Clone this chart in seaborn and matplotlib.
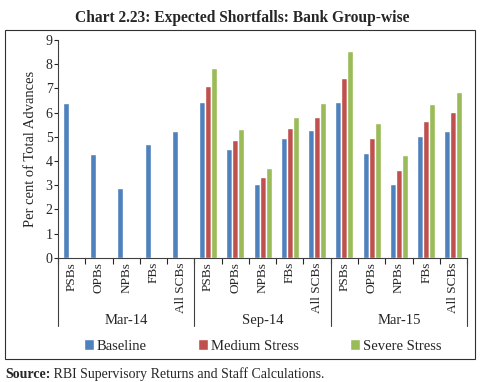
import pandas as pd
import seaborn as sns
import matplotlib.pyplot as plt
from matplotlib.patches import Rectangle

# --- DATA ---
periods = ["Mar-14", "Sep-14", "Mar-15"]
banks = ["PSBs", "OPBs", "NPBs", "FBs", "All SCBs"]
scenarios = ["Baseline", "Medium Stress", "Severe Stress"]

baseline = {
    "Mar-14": [6.4, 4.3, 2.9, 4.7, 5.25],
    "Sep-14": [6.45, 4.48, 3.05, 4.94, 5.3],
    "Mar-15": [6.43, 4.32, 3.04, 5.04, 5.23],
}
medium = {
    "Sep-14": [7.12, 4.87, 3.35, 5.38, 5.83],
    "Mar-15": [7.43, 4.94, 3.62, 5.66, 6.02],
}
severe = {
    "Sep-14": [7.84, 5.33, 3.7, 5.84, 6.39],
    "Mar-15": [8.53, 5.58, 4.25, 6.34, 6.87],
}

colors = ["#4F81BD", "#C0504D", "#9BBB59"]

# --- THEME ---
sns.set_theme(style="white")
plt.rcParams["font.family"] = ["Liberation Serif", "DejaVu Serif"]
plt.rcParams["axes.linewidth"] = 0.8

# --- LONG TABLE ---
rows = []
for scen, table in zip(scenarios, [baseline, medium, severe]):
    for p in periods:
        if p not in table:
            continue
        for b, v in zip(banks, table[p]):
            rows.append({"slot": f"{p} {b}", "scenario": scen, "value": v})
df = pd.DataFrame(rows)
order = [f"{p} {b}" for p in periods for b in banks]

# --- PLOT ---
fig = plt.figure(figsize=(4.84, 3.82), dpi=100)
ax = fig.add_axes([0.12, 0.325, 0.845, 0.57])

sns.barplot(data=df, x="slot", y="value", hue="scenario", order=order,
            hue_order=scenarios, palette=colors, width=0.66,
            saturation=1, errorbar=None, ax=ax)

ax.set_xlim(-0.5, len(order) - 0.5)
ax.set_ylim(0, 9)
ax.set_yticks(range(10))
ax.tick_params(axis="y", labelsize=10, length=3, width=0.8, pad=1, left=True)
ax.set_ylabel("Per cent of Total Advances", fontsize=10.5, labelpad=6)
ax.set_xlabel("")

ax.set_xticks(range(len(order)))
ax.set_xticklabels(banks * len(periods), rotation=90, fontsize=9.5)
ax.tick_params(axis="x", length=0, pad=3)
ax.set_xticks([i - 0.5 for i in range(len(order) + 1)], minor=True)
ax.tick_params(axis="x", which="minor", length=4, width=0.8, bottom=True)

sns.despine(ax=ax, top=True, right=True)
for s in ["left", "bottom"]:
    ax.spines[s].set_color("#404040")

# group separators and period labels
trans = ax.get_xaxis_transform()
for k in range(len(periods) + 1):
    xpos = k * len(banks) - 0.5
    ax.plot([xpos, xpos], [0, -0.315], color="#404040", lw=0.8,
            transform=trans, clip_on=False)
for k, p in enumerate(periods):
    ax.text(k * len(banks) + 2, -0.29, p, transform=trans,
            ha="center", va="center", fontsize=10.5)

ax.legend(loc="center", bbox_to_anchor=(0.5, -0.405), ncol=3, frameon=False,
          fontsize=10.5, handlelength=0.7, handleheight=0.7, handletextpad=0.2,
          columnspacing=3.5)

fig.suptitle("Chart 2.23: Expected Shortfalls: Bank Group-wise",
             fontsize=11.2, fontweight="bold", y=0.975)

# frame around the chart body
fig.patches.append(Rectangle((5 / 484, 1 - 359 / 382), 470 / 484, 329.5 / 382,
                             transform=fig.transFigure, fill=False,
                             edgecolor="#303030", lw=0.8))

# source note
src = fig.text(0.01, 0.02, "Source:", fontsize=10, fontweight="bold", va="center")
fig.text(0, 0, " RBI Supervisory Returns and Staff Calculations.", fontsize=10,
         va="center", transform=src.get_transform())
fig.canvas.draw()
bb = src.get_window_extent()
fig.texts[-1].set_position((bb.x1 / fig.bbox.width, 0.02))

fig.savefig("out.png", dpi=100)
